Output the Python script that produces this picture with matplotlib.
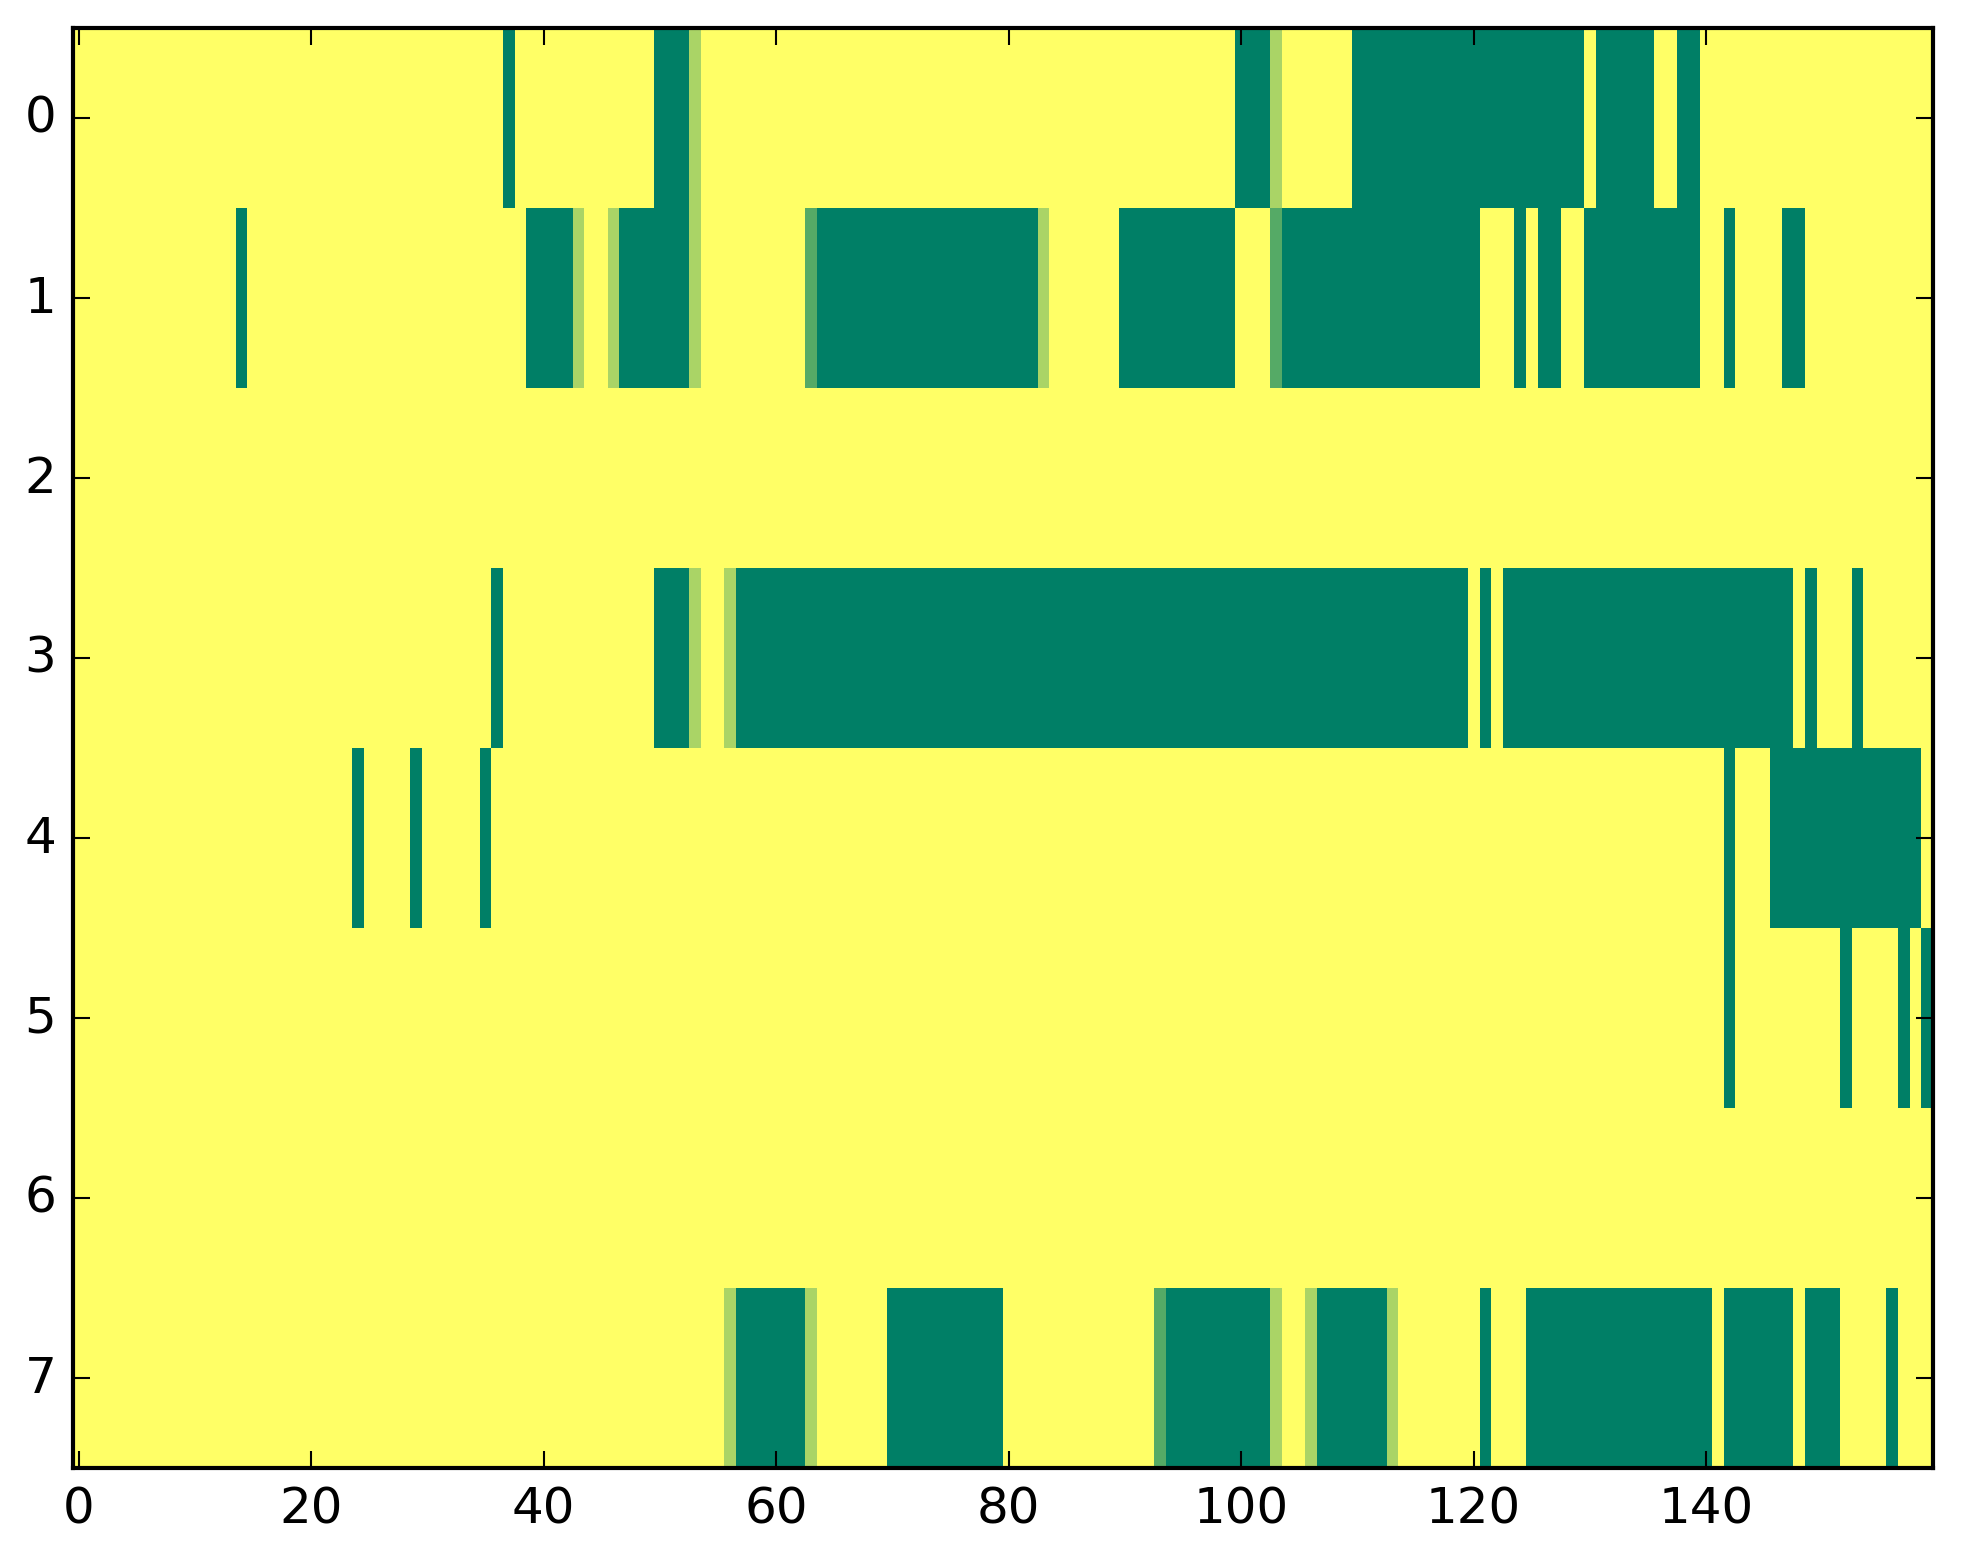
import numpy as np
import matplotlib
matplotlib.use("Agg")
import matplotlib.pyplot as plt

# Cell values: 0 = dark green, 1/3 = mid green, 2/3 = light green, 1 = yellow
G, M, L, Y = 0.0, 1/3, 2/3, 1.0

# Each row is a run-length list of (value, count) pairs read left to right (160 columns)
row0 = [(Y, 37), (G, 1), (Y, 12), (G, 3), (L, 1), (Y, 46), (G, 3), (L, 1), (Y, 6),
        (G, 20), (Y, 1), (G, 5), (Y, 2), (G, 2), (Y, 20)]
row1 = [(Y, 14), (G, 1), (Y, 24), (G, 4), (L, 1), (Y, 2), (L, 1), (G, 6), (L, 1),
        (Y, 9), (M, 1), (G, 19), (L, 1), (Y, 6), (G, 10), (Y, 3), (M, 1), (G, 17),
        (Y, 3), (G, 1), (Y, 1), (G, 2), (Y, 2), (G, 10), (Y, 2), (G, 1), (Y, 4),
        (G, 2), (Y, 11)]
row2 = [(Y, 160)]
row3 = [(Y, 36), (G, 1), (Y, 13), (G, 3), (L, 1), (Y, 2), (L, 1), (G, 63), (Y, 1),
        (G, 1), (Y, 1), (G, 25), (Y, 1), (G, 1), (Y, 3), (G, 1), (Y, 6)]
row4 = [(Y, 24), (G, 1), (Y, 4), (G, 1), (Y, 5), (G, 1), (Y, 106), (G, 1), (Y, 3),
        (G, 13), (Y, 1)]
row5 = [(Y, 142), (G, 1), (Y, 9), (G, 1), (Y, 4), (G, 1), (Y, 1), (G, 1)]
row6 = [(Y, 160)]
row7 = [(Y, 56), (L, 1), (G, 6), (L, 1), (Y, 6), (G, 10), (Y, 13), (M, 1), (G, 9),
        (L, 1), (Y, 2), (L, 1), (G, 6), (L, 1), (Y, 7), (G, 1), (Y, 3), (G, 16),
        (Y, 1), (G, 6), (Y, 1), (G, 3), (Y, 4), (G, 1), (Y, 3)]

rows = [row0, row1, row2, row3, row4, row5, row6, row7]
y_ticks = [0, 1, 2, 3, 4, 5, 6, 7]
x_ticks = [0, 20, 40, 60, 80, 100, 120, 140]


def expand(runs):
    out = []
    for v, n in runs:
        out.extend([v] * n)
    return out


data = np.array([expand(r) for r in rows])

plt.style.use('classic')
fig = plt.figure(figsize=(1963 / 300, 1564 / 300), dpi=300, facecolor='white')
ax = fig.add_axes([73.0 / 1963, 95.3 / 1564, 1859.7 / 1963, 1440.0 / 1564])
ax.imshow(data, cmap='summer', vmin=0, vmax=1, aspect='auto',
          interpolation='nearest')
ax.set_xticks(x_ticks)
ax.set_yticks(y_ticks)
ax.set_xlim(-0.5, data.shape[1] - 0.5)
ax.set_ylim(data.shape[0] - 0.5, -0.5)

fig.savefig('out.png', dpi=300, facecolor='white')
